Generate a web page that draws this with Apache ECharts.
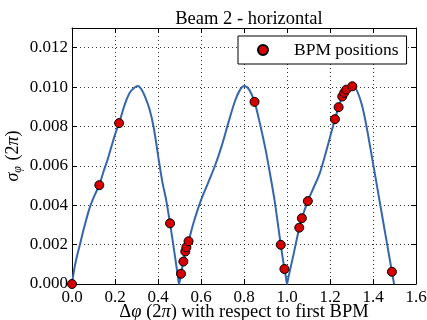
<!DOCTYPE html>
<html>
<head>
<meta charset="utf-8">
<script src="https://cdn.jsdelivr.net/npm/echarts@6/dist/echarts.min.js"></script>
<style>html,body{margin:0;padding:0;background:#fff}#c{width:427px;height:320px}</style>
</head>
<body>
<div id="c"></div>
<script>
// Curve: phase advance (2pi) vs sigma_phi (units of 1e-3 * 2pi)
var curveX = [0.000, 0.004, 0.012, 0.025, 0.037, 0.050, 0.061, 0.076, 0.088, 0.107, 0.127, 0.146, 0.165, 0.185, 0.205, 0.219, 0.239, 0.255, 0.270, 0.290, 0.306, 0.322, 0.340, 0.360, 0.380, 0.405, 0.420, 0.438, 0.456, 0.477, 0.492, 0.498,
              0.503, 0.507, 0.518, 0.527, 0.532, 0.542, 0.565, 0.600, 0.635, 0.666, 0.697, 0.728, 0.759, 0.782, 0.801, 0.824, 0.849, 0.875, 0.899, 0.921, 0.942, 0.957, 0.971, 0.988, 0.995, 1.000,
              1.005, 1.030, 1.057, 1.069, 1.097, 1.124, 1.150, 1.175, 1.200, 1.223, 1.240, 1.257, 1.266, 1.276, 1.290, 1.304, 1.325, 1.349, 1.369, 1.387, 1.411, 1.434, 1.462, 1.488, 1.498];
var curveY = [0.00, 0.32, 0.85, 1.50, 2.00, 2.60, 3.05, 3.65, 4.05, 4.55, 5.02, 5.69, 6.30, 7.04, 7.75, 8.17, 8.90, 9.40, 9.74, 9.97, 10.05, 9.90, 9.50, 8.90, 7.95, 6.20, 5.20, 4.26, 3.08, 1.55, 0.43, 0.00,
              0.28, 0.52, 1.14, 1.65, 1.87, 2.17, 3.10, 4.26, 5.19, 6.03, 7.04, 8.22, 9.32, 9.87, 10.06, 9.87, 9.25, 8.10, 6.90, 5.60, 4.26, 3.10, 1.99, 0.76, 0.34, 0.00,
              0.26, 1.48, 2.86, 3.34, 4.21, 4.90, 5.55, 6.45, 7.45, 8.37, 8.98, 9.52, 9.71, 9.87, 10.00, 10.04, 9.82, 9.06, 8.05, 6.95, 5.45, 4.00, 2.25, 0.62, 0.00];
// BPM positions
var bpmX = [0.000, 0.127, 0.219, 0.456, 0.507, 0.518, 0.527, 0.532, 0.542, 0.849, 0.971, 0.988, 1.057, 1.069, 1.097, 1.223, 1.240, 1.257, 1.266, 1.276, 1.304, 1.488];
var bpmY = [0.00, 5.02, 8.17, 3.08, 0.52, 1.14, 1.65, 1.87, 2.17, 9.25, 1.99, 0.76, 2.86, 3.34, 4.21, 8.37, 8.98, 9.52, 9.71, 9.87, 10.04, 0.62];
var yScale = 1e-3;
var xTicks = {min: 0, max: 1.6, interval: 0.2};
var yTicks = {min: 0, max: 0.013, interval: 0.002};

var FONT = 'Liberation Serif';
var lineData = curveX.map(function (x, i) { return [x, curveY[i] * yScale]; });
var bpmData = bpmX.map(function (x, i) { return [x, bpmY[i] * yScale]; });

var splitLine = {show: true, lineStyle: {color: '#000', width: 1, type: [1, 3], opacity: 0.8}};
function axisBase(extra) {
  var o = {
    type: 'value',
    axisLine: {show: true, onZero: false, lineStyle: {color: '#000', width: 1}},
    axisTick: {show: true, inside: true, length: 5, lineStyle: {color: '#000', width: 1}},
    splitLine: {show: false},
    axisLabel: {show: false}
  };
  for (var k in extra) o[k] = extra[k];
  return o;
}
var chart = echarts.init(document.getElementById('c'), null, {renderer: 'canvas'});
chart.setOption({
  animation: false,
  backgroundColor: '#fff',
  title: {
    text: 'Beam 2 - horizontal', left: 244, top: 5, textAlign: 'center',
    textStyle: {fontFamily: FONT, fontSize: 18.5, fontWeight: 'normal', color: '#000'}
  },
  grid: {left: 72, right: 11, top: 28, bottom: 36, containLabel: false, outerBoundsMode: 'none'},
  legend: {
    data: ['BPM positions'], left: 238, top: 36,
    orient: 'vertical',
    padding: [5, 8, 5, 19],
    itemWidth: 10, itemHeight: 10,
    borderColor: '#000', borderWidth: 1, borderRadius: 0,
    backgroundColor: '#fff',
    textStyle: {fontFamily: FONT, fontSize: 17.5, color: '#000', padding: [0, 0, 0, 21], lineHeight: 18}
  },
  xAxis: [
    axisBase({
      min: xTicks.min, max: xTicks.max, interval: xTicks.interval, position: 'bottom',
      splitLine: splitLine,
      axisLabel: {show: true, color: '#000', fontFamily: FONT, fontSize: 17, margin: 5,
        formatter: function (v) { return v.toFixed(1); }},
      name: '{d|Δ}{i|φ} (2{i|π}) with respect to first BPM', nameLocation: 'middle', nameGap: 19,
      nameMoveOverlap: false,
      nameTextStyle: {fontFamily: FONT, fontSize: 18.5, color: '#000',
        rich: {d: {fontFamily: FONT, fontSize: 18.5, color: '#000'}, i: {fontFamily: FONT, fontStyle: 'italic', fontSize: 18.5, color: '#000'}}}
    }),
    axisBase({min: xTicks.min, max: xTicks.max, interval: xTicks.interval, position: 'top'})
  ],
  yAxis: [
    axisBase({
      min: yTicks.min, max: yTicks.max, interval: yTicks.interval, position: 'left',
      splitLine: splitLine,
      axisLabel: {show: true, color: '#000', fontFamily: FONT, fontSize: 17, margin: 4, showMaxLabel: false,
        formatter: function (v) { return Math.abs(v - yTicks.max) < 1e-9 ? '' : v.toFixed(3); }},
      name: '{i|σ}{s|φ} (2{i|π})', nameLocation: 'middle', nameGap: 48, nameRotate: 90,
      nameMoveOverlap: false,
      nameTextStyle: {fontFamily: FONT, fontSize: 18, color: '#000',
        rich: {i: {fontFamily: FONT, fontStyle: 'italic', fontSize: 18, color: '#000'},
               s: {fontFamily: FONT, fontStyle: 'italic', fontSize: 12, color: '#000', padding: [9, 1, 0, 0]}}}
    }),
    axisBase({min: yTicks.min, max: yTicks.max, interval: yTicks.interval, position: 'right'})
  ],
  series: [
    {
      type: 'line', name: 'curve', data: lineData, showSymbol: false, smooth: 0.3,
      lineStyle: {color: '#3566ad', width: 2}, itemStyle: {color: '#3566ad'}, z: 3, clip: true
    },
    {
      type: 'scatter', name: 'BPM positions', data: bpmData, symbol: 'circle', symbolSize: 9,
      itemStyle: {color: '#d40000', borderColor: '#000', borderWidth: 1, opacity: 1}, z: 4
    }
  ]
});
</script>
</body>
</html>
